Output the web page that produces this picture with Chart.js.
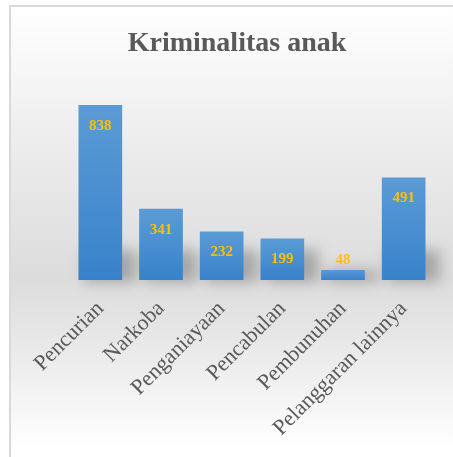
<!DOCTYPE html>
<html>
<head>
<meta charset="utf-8">
<script src="https://cdn.jsdelivr.net/npm/chart.js@4/dist/chart.umd.min.js"></script>
<style>
  html, body { margin: 0; padding: 0; background: #fff; }
  #wrap {
    position: absolute; left: 0; top: 0; width: 453px; height: 457px; overflow: hidden;
  }
  #frame {
    position: absolute; left: 9px; top: 5px; width: 460px; height: 470px;
    border: 2px solid #d9d9d9; box-sizing: border-box;
    background: linear-gradient(to bottom, #ffffff 0%, #f2f2f2 20%, #dcdcdc 58%, #e6e6e6 70%, #ffffff 95%);
  }
  #myChart { position: absolute; left: 0; top: 0; }
</style>
</head>
<body>
<div id="wrap">
  <div id="frame"></div>
  <canvas id="myChart" width="453" height="457"></canvas>
</div>
<script>
var categories = ["Pencurian", "Narkoba", "Penganiayaan", "Pencabulan", "Pembunuhan", "Pelanggaran lainnya"];
var values = [838, 341, 232, 199, 48, 491];
var chartTitle = "Kriminalitas anak";

// title drawn by hand so it sits where the original one does
var titleText = {
    id: 'titleText',
    afterDraw: function (chart) {
        var ctx = chart.ctx;
        ctx.save();
        ctx.font = 'bold 28px "Liberation Serif", serif';
        ctx.fillStyle = '#595959';
        ctx.textAlign = 'center';
        ctx.textBaseline = 'middle';
        ctx.fillText(chartTitle, 237, 44);
        ctx.restore();
    }
};

// blurred shadow at the foot of each bar
var barShadow = {
    id: 'barShadow',
    beforeDatasetsDraw: function (chart) {
        var ctx = chart.ctx;
        var meta = chart.getDatasetMeta(0);
        ctx.save();
        ctx.filter = 'blur(7px)';
        ctx.fillStyle = 'rgba(0,0,0,0.25)';
        meta.data.forEach(function (bar) {
            var h = Math.min(bar.base - bar.y, 30);
            ctx.fillRect(bar.x - bar.width / 2 + 6, bar.base - h, bar.width + 8, h + 2);
        });
        ctx.restore();
    }
};

// value labels drawn near the top of each bar
var valueLabels = {
    id: 'valueLabels',
    afterDatasetsDraw: function (chart) {
        var ctx = chart.ctx;
        var meta = chart.getDatasetMeta(0);
        ctx.save();
        ctx.font = 'bold 15px "Liberation Serif", serif';
        ctx.fillStyle = '#ffc000';
        ctx.textAlign = 'center';
        ctx.textBaseline = 'middle';
        meta.data.forEach(function (bar, i) {
            var y = (bar.base - bar.y) > 32 ? bar.y + 21 : bar.y - 10;
            ctx.fillText(values[i], bar.x, y);
        });
        ctx.restore();
    }
};

var ctx = document.getElementById("myChart");
var myBarChart = new Chart(ctx, {
    type: 'bar',
    data: {
        labels: categories,
        datasets: [{
            label: chartTitle,
            data: values,
            backgroundColor: function (c) {
                var el = c.chart.getDatasetMeta(0).data[c.dataIndex];
                if (!el || !isFinite(el.y) || !isFinite(el.base) || el.base === el.y) return '#4a90d3';
                var g = c.chart.ctx.createLinearGradient(0, el.y, 0, el.base);
                g.addColorStop(0, '#5b9bd5');
                g.addColorStop(1, '#3882cb');
                return g;
            },
            borderWidth: 0,
            barPercentage: 0.72,
            categoryPercentage: 1.0
        }]
    },
    options: {
        responsive: false,
        animation: false,
        layout: { padding: { left: 70, right: 19, top: 92, bottom: 0 } },
        plugins: {
            legend: { display: false },
            tooltip: { enabled: false },
            title: { display: false }
        },
        scales: {
            x: {
                grid: { display: false, drawTicks: false },
                border: { display: false },
                ticks: {
                    color: '#595959',
                    font: { family: '"Liberation Serif", serif', size: 22 },
                    minRotation: 45,
                    maxRotation: 45,
                    padding: 16
                },
                afterFit: function (scale) {
                    scale.height = 177;
                    scale.paddingLeft = 0;
                    scale.paddingRight = 0;
                }
            },
            y: {
                display: false,
                min: 0,
                max: 900
            }
        }
    },
    plugins: [barShadow, valueLabels, titleText]
});
myBarChart.update();
</script>
</body>
</html>
